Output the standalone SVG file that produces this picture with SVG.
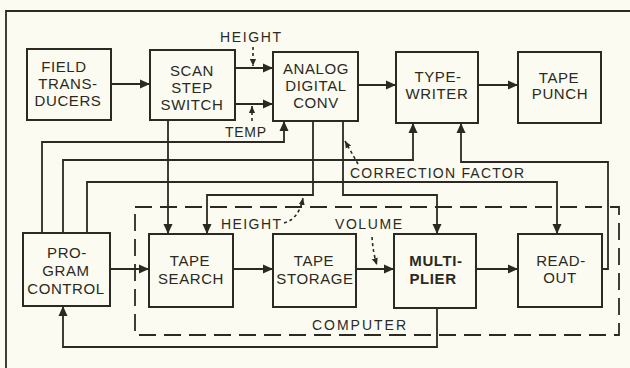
<svg xmlns="http://www.w3.org/2000/svg" width="630" height="368" viewBox="0 0 630 368">
<defs>
<style>
.bg{fill:#fbfbf1}
.box{fill:none;stroke:#2b2a22;stroke-width:2}
.ln{fill:none;stroke:#2b2a22;stroke-width:1.8;stroke-linejoin:miter}
.dash{fill:none;stroke:#2b2a22;stroke-width:1.6;stroke-dasharray:3 3}
.comp{fill:none;stroke:#2b2a22;stroke-width:1.8;stroke-dasharray:17 8}
.t{font-family:"Liberation Sans",Arial,sans-serif;font-size:15px;fill:#2b2a22;text-anchor:middle;letter-spacing:0.6px}
.l{font-family:"Liberation Sans",Arial,sans-serif;font-size:14px;fill:#2b2a22;letter-spacing:1px}
</style>
<marker id="ar" viewBox="0 0 10 10" refX="10" refY="5" markerWidth="10" markerHeight="10" markerUnits="userSpaceOnUse" orient="auto">
<path d="M0,0.5 L10,5 L0,9.5 z" fill="#2b2a22"/>
</marker>
<marker id="sa" viewBox="0 0 8 8" refX="8" refY="4" markerWidth="7" markerHeight="7" markerUnits="userSpaceOnUse" orient="auto">
<path d="M0,0.5 L8,4 L0,7.5 z" fill="#2b2a22"/>
</marker>
</defs>
<rect class="bg" x="0" y="0" width="630" height="368"/>
<path class="ln" d="M6,368 V11 H630" stroke-width="2"/>

<g id="computer">
<rect class="comp" x="135" y="207" width="484" height="128"/>
<text class="l" x="312" y="330" textLength="95" lengthAdjust="spacing">COMPUTER</text>
</g>

<g id="connectors">
<path class="ln" d="M111,84 H150" marker-end="url(#ar)"/>
<path class="ln" d="M235,68 H273" marker-end="url(#ar)"/>
<path class="ln" d="M235,104 H273" marker-end="url(#ar)"/>
<path class="ln" d="M358,85 H396" marker-end="url(#ar)"/>
<path class="ln" d="M478,85 H518" marker-end="url(#ar)"/>
<path class="ln" d="M42,233 V142 H284 V121" marker-end="url(#ar)"/>
<path class="ln" d="M63,233 V160 H413 V123" marker-end="url(#ar)"/>
<path class="ln" d="M87,233 V182 H557 V234" marker-end="url(#ar)"/>
<path class="ln" d="M602,269 H608 V162 H461 V123" marker-end="url(#ar)"/>
<path class="ln" d="M168,120 V234" marker-end="url(#ar)"/>
<path class="ln" d="M313,121 V195 H207 V234" marker-end="url(#ar)"/>
<path class="ln" d="M343,121 V195 H437 V234" marker-end="url(#ar)"/>
<path class="ln" d="M110,269 H149" marker-end="url(#ar)"/>
<path class="ln" d="M233,269 H273" marker-end="url(#ar)"/>
<path class="ln" d="M356,269 H394" marker-end="url(#ar)"/>
<path class="ln" d="M476,269 H518" marker-end="url(#ar)"/>
<path class="ln" d="M437,308 V347 H63 V306" marker-end="url(#ar)"/>
</g>

<g id="annotations">
<path class="dash" d="M253,47 V66" marker-end="url(#sa)"/>
<text class="l" x="220" y="42" textLength="62" lengthAdjust="spacing">HEIGHT</text>
<path class="dash" d="M252,121 V106" marker-end="url(#sa)"/>
<text class="l" x="225" y="137" textLength="42" lengthAdjust="spacing">TEMP</text>
<path class="dash" d="M358,164 L345,141" marker-end="url(#sa)"/>
<text class="l" x="350" y="178" textLength="175" lengthAdjust="spacing">CORRECTION FACTOR</text>
<path class="dash" d="M284,223 Q299,219 303,198" marker-end="url(#sa)"/>
<text class="l" x="221" y="229" textLength="61" lengthAdjust="spacing">HEIGHT</text>
<path class="dash" d="M372,237 Q373,253 377,265" marker-end="url(#sa)"/>
<text class="l" x="335" y="229" textLength="68" lengthAdjust="spacing">VOLUME</text>
</g>

<g id="field-transducers">
<rect class="box" x="27" y="49" width="84" height="71"/>
<text class="t" x="64" y="72">FIELD</text>
<text class="t" x="68" y="89">TRANS-</text>
<text class="t" x="68" y="106">DUCERS</text>
</g>
<g id="scan-step-switch">
<rect class="box" x="150" y="50" width="85" height="70"/>
<text class="t" x="192" y="76">SCAN</text>
<text class="t" x="192" y="93">STEP</text>
<text class="t" x="192" y="110">SWITCH</text>
</g>
<g id="analog-digital-conv">
<rect class="box" x="273" y="52" width="85" height="69"/>
<text class="t" x="316" y="74">ANALOG</text>
<text class="t" x="316" y="91">DIGITAL</text>
<text class="t" x="316" y="108">CONV</text>
</g>
<g id="typewriter">
<rect class="box" x="396" y="52" width="82" height="71"/>
<text class="t" x="438" y="82">TYPE-</text>
<text class="t" x="437" y="99">WRITER</text>
</g>
<g id="tape-punch">
<rect class="box" x="518" y="52" width="83" height="71"/>
<text class="t" x="559" y="83">TAPE</text>
<text class="t" x="560" y="99">PUNCH</text>
</g>
<g id="program-control">
<rect class="box" x="23" y="233" width="87" height="73"/>
<text class="t" x="67" y="258">PRO-</text>
<text class="t" x="66" y="276">GRAM</text>
<text class="t" x="66" y="294">CONTROL</text>
</g>
<g id="tape-search">
<rect class="box" x="149" y="234" width="84" height="73"/>
<text class="t" x="190" y="266">TAPE</text>
<text class="t" x="191" y="284">SEARCH</text>
</g>
<g id="tape-storage">
<rect class="box" x="273" y="234" width="83" height="73"/>
<text class="t" x="314" y="266">TAPE</text>
<text class="t" x="315" y="284">STORAGE</text>
</g>
<g id="multiplier">
<rect class="box" x="394" y="234" width="82" height="74"/>
<text class="t" x="436" y="266" font-weight="bold">MULTI-</text>
<text class="t" x="433" y="284" font-weight="bold">PLIER</text>
</g>
<g id="readout">
<rect class="box" x="518" y="234" width="84" height="73"/>
<text class="t" x="561" y="266">READ-</text>
<text class="t" x="560" y="283">OUT</text>
</g>
</svg>
